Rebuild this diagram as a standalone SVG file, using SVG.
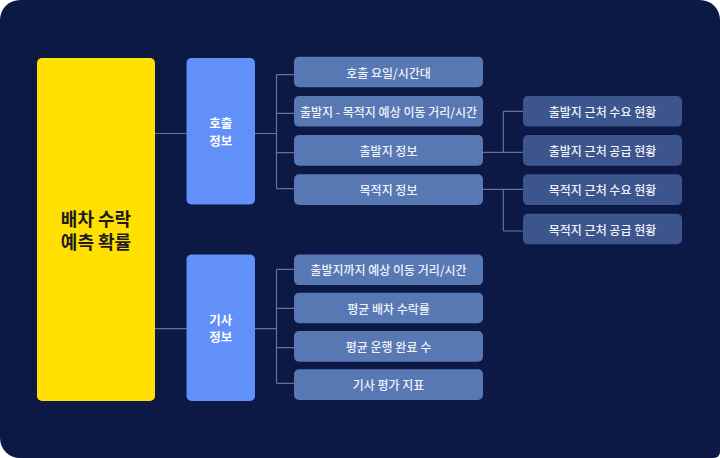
<svg xmlns="http://www.w3.org/2000/svg" width="720" height="458" viewBox="0 0 720 458">
<style>
text{font-family:"Noto Sans CJK KR","Noto Sans",sans-serif;text-anchor:middle;dominant-baseline:central}
.main{fill:#ffe000}
.cat{fill:#6090f8}
.item{fill:#5878b4}
.sub{fill:#3d558d}
.t-main{font-size:18px;font-weight:700;fill:#1c1c1c}
.t-cat{font-size:12.5px;font-weight:700;fill:#ffffff}
.t-item{font-size:12px;font-weight:500;fill:#eef2fa}
.conn path{fill:none;stroke:#6b7288;stroke-width:1.2}
</style>
<rect width="720" height="458" fill="#ffffff"/>
<path d="M20 0 H700 A20 20 0 0 1 720 20 V452 A6 6 0 0 1 714 458 H20 A20 20 0 0 1 0 438 V20 A20 20 0 0 1 20 0 Z" fill="#0c1944"/>
<g id="connectors" class="conn">
<path d="M155 133.5 H186.5 M255 133.5 H276.5 M276.5 74.7 V188.7 M276.5 74.7 H294 M276.5 113.3 H294 M276.5 152.7 H294 M276.5 188.7 H294"/>
<path d="M155 328.7 H186.5 M255 328.7 H276.5 M276.5 269.3 V383.3 M276.5 269.3 H294 M276.5 308.3 H294 M276.5 347.7 H294 M276.5 383.3 H294"/>
<path d="M483 152.3 H523 M503.3 111.3 V152.3 M503.3 111.3 H523"/>
<path d="M483 189.3 H523 M503.3 189.3 V231 M503.3 231 H523"/>
</g>
<g id="n-main"><rect class="main" x="37" y="58" width="118" height="343" rx="5"/><text class="t-main" x="96" y="217.5">배차 수락</text><text class="t-main" x="96" y="241">예측 확률</text></g>
<g id="n-call"><rect class="cat" x="186.5" y="58" width="68.5" height="146.5" rx="5"/><text class="t-cat" x="220.7" y="122.6">호출</text><text class="t-cat" x="220.7" y="140">정보</text></g>
<g id="n-driver"><rect class="cat" x="186.5" y="254.5" width="68.5" height="146.5" rx="5"/><text class="t-cat" x="220.7" y="319">기사</text><text class="t-cat" x="220.7" y="336.4">정보</text></g>
<g id="n-c1"><rect class="item" x="294" y="56.7" width="189" height="30.6" rx="5"/><text class="t-item" x="388.5" y="72">호출 요일/시간대</text></g>
<g id="n-c2"><rect class="item" x="294" y="96" width="189" height="30.6" rx="5"/><text class="t-item" x="388.5" y="111.3">출발지 - 목적지 예상 이동 거리/시간</text></g>
<g id="n-c3"><rect class="item" x="294" y="135" width="189" height="30.8" rx="5"/><text class="t-item" x="388.5" y="150.4">출발지 정보</text></g>
<g id="n-c4"><rect class="item" x="294" y="174.3" width="189" height="30.7" rx="5"/><text class="t-item" x="388.5" y="189.6">목적지 정보</text></g>
<g id="n-s1"><rect class="sub" x="523" y="96" width="159" height="30.6" rx="5"/><text class="t-item" x="602.5" y="111.3">출발지 근처 수요 현황</text></g>
<g id="n-s2"><rect class="sub" x="523" y="135" width="159" height="30.8" rx="5"/><text class="t-item" x="602.5" y="150.4">출발지 근처 공급 현황</text></g>
<g id="n-s3"><rect class="sub" x="523" y="174.3" width="159" height="30.8" rx="5"/><text class="t-item" x="602.5" y="189.7">목적지 근처 수요 현황</text></g>
<g id="n-s4"><rect class="sub" x="523" y="213.7" width="159" height="30.6" rx="5"/><text class="t-item" x="602.5" y="229">목적지 근처 공급 현황</text></g>
<g id="n-d1"><rect class="item" x="294" y="254.5" width="189" height="30.6" rx="5"/><text class="t-item" x="388.5" y="269.8">출발지까지 예상 이동 거리/시간</text></g>
<g id="n-d2"><rect class="item" x="294" y="292.7" width="189" height="30.6" rx="5"/><text class="t-item" x="388.5" y="308">평균 배차 수락률</text></g>
<g id="n-d3"><rect class="item" x="294" y="331" width="189" height="30.7" rx="5"/><text class="t-item" x="388.5" y="346.3">평균 운행 완료 수</text></g>
<g id="n-d4"><rect class="item" x="294" y="369.3" width="189" height="30.7" rx="5"/><text class="t-item" x="388.5" y="384.6">기사 평가 지표</text></g>
</svg>
